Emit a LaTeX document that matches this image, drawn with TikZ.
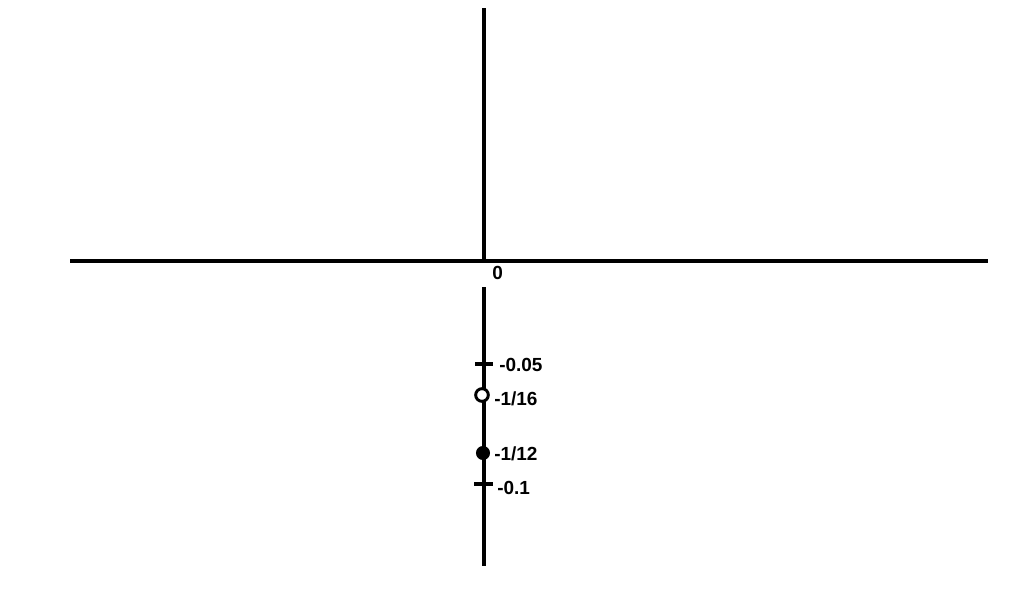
\documentclass[tikz,border=0pt]{standalone}
\usepackage{fontspec}
\setmainfont{Liberation Sans}
\usetikzlibrary{positioning}

\begin{document}
\begin{tikzpicture}[
  x=0.025cm,y=-0.025cm,
  axis/.style={line width=2.9pt},
  tickmark/.style={line width=2.6pt},
  lbl/.style={anchor=west,inner sep=0pt,font=\bfseries\fontsize{13.5}{15}\selectfont},
  opendot/.style={circle,draw,line width=2.1pt,fill=white,minimum size=9pt,inner sep=0pt},
  filldot/.style={circle,fill,minimum size=10pt,inner sep=0pt}
]
  \useasboundingbox (0,0) rectangle (1032,607);
  % axes
  \coordinate (xl) at (70,261);
  \coordinate (xr) at (988,261);
  \coordinate (yt) at (484,8);
  \coordinate (yo) at (484,263);
  \coordinate (yg) at (484,287);
  \coordinate (yb) at (484,566);
  \draw[axis] (xl) -- (xr);
  \draw[axis] (yt) -- (yo);
  \draw[axis] (yg) -- (yb);
  % ticks
  \coordinate (ta) at (475,364);
  \coordinate (tb) at (493,364);
  \coordinate (tc) at (474,484);
  \coordinate (td) at (493,484);
  \draw[tickmark] (ta) -- (tb);
  \draw[tickmark] (tc) -- (td);
  % points
  \node[opendot] (sixteen) at (482,395) {};
  \node[filldot] (twelve) at (483,453) {};
  % labels
  \node[lbl] (zero) at (492,273) {0};
  \node[lbl] (lfive) at (499,365) {-0.05};
  \node[lbl] (lsixteen) at (494,399) {-1/16};
  \node[lbl] (ltwelve) at (494,454) {-1/12};
  \node[lbl] (lten) at (497,488) {-0.1};
\end{tikzpicture}
\end{document}
